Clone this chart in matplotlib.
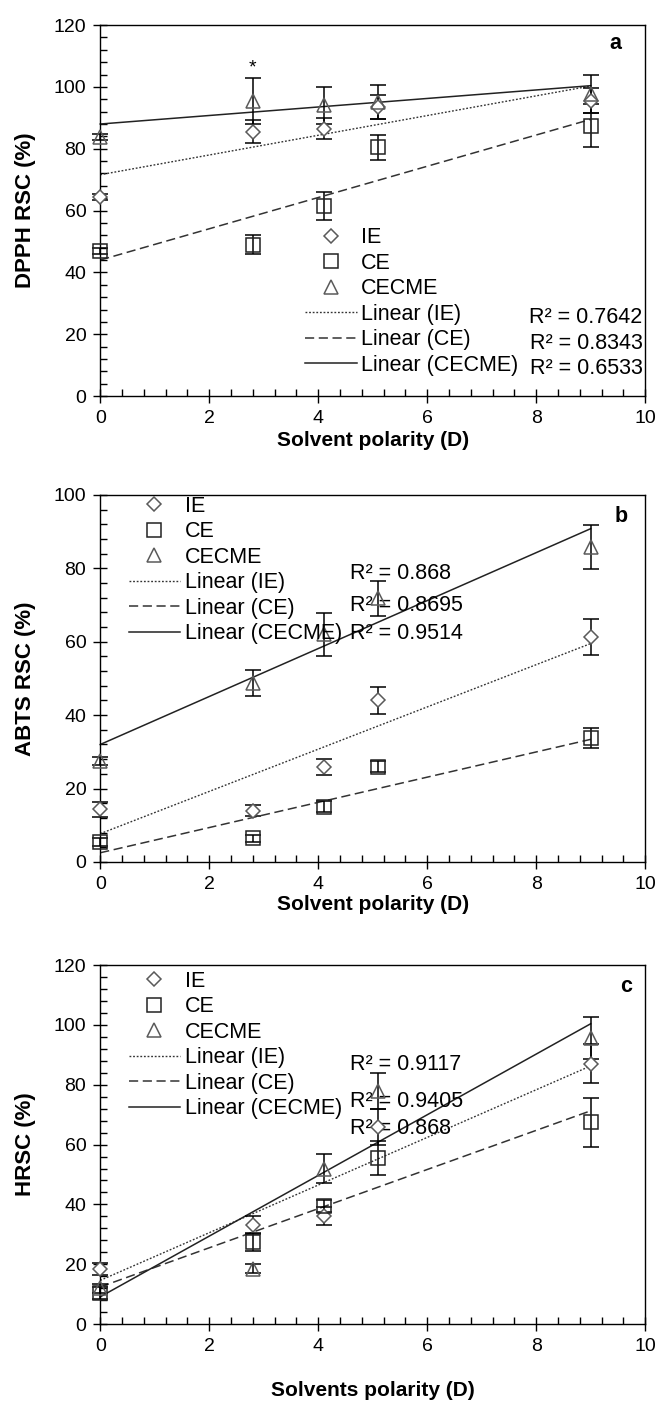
import numpy as np
import matplotlib
matplotlib.use('Agg')
import matplotlib.pyplot as plt
from matplotlib.lines import Line2D
from matplotlib.ticker import MultipleLocator

plt.rcParams['font.family'] = ['Liberation Sans', 'DejaVu Sans']

polarity = [0, 2.8, 4.1, 5.1, 9.0]
fit_x = [0, 9.0]

# a: DPPH
dpph_ie = [64.5, 85.5, 86.5, 93.5, 95.5]
dpph_ie_err = [1.0, 3.7, 3.5, 4.0, 4.0]
dpph_ce = [46.8, 49.0, 61.5, 80.5, 87.5]
dpph_ce_err = [1.0, 3.0, 4.5, 4.0, 7.0]
dpph_cecme = [83.7, 95.5, 94.0, 95.0, 97.8]
dpph_cecme_err = [1.0, 7.5, 6.0, 5.5, 6.2]
dpph_fit_ie = [71.6, 100.3]
dpph_fit_ce = [44.0, 89.5]
dpph_fit_cecme = [88.0, 100.4]
dpph_r2 = ['R² = 0.7642', 'R² = 0.8343', 'R² = 0.6533']

# b: ABTS
abts_ie = [14.3, 14.0, 25.8, 44.0, 61.2]
abts_ie_err = [2.0, 1.5, 2.2, 3.8, 4.9]
abts_ce = [5.4, 6.4, 15.0, 26.0, 33.7]
abts_ce_err = [1.0, 1.0, 1.5, 1.5, 2.7]
abts_cecme = [27.5, 48.8, 62.0, 71.8, 85.8]
abts_cecme_err = [1.0, 3.5, 5.8, 4.7, 6.0]
abts_fit_ie = [7.7, 59.5]
abts_fit_ce = [2.5, 33.4]
abts_fit_cecme = [32.0, 90.8]
abts_r2 = ['R² = 0.868', 'R² = 0.8695', 'R² = 0.9514']

# c: HRSC
hrsc_ie = [18.5, 33.0, 36.0, 66.0, 87.0]
hrsc_ie_err = [2.0, 3.0, 3.0, 6.0, 6.5]
hrsc_ce = [10.5, 27.5, 39.5, 55.5, 67.5]
hrsc_ce_err = [2.0, 3.0, 2.0, 5.7, 8.2]
hrsc_cecme = [12.0, 18.5, 52.0, 78.0, 95.5]
hrsc_cecme_err = [1.5, 1.5, 5.0, 6.0, 7.0]
hrsc_fit_ie = [14.6, 86.3]
hrsc_fit_ce = [12.4, 71.3]
hrsc_fit_cecme = [9.1, 100.4]
hrsc_r2 = ['R² = 0.9117', 'R² = 0.9405', 'R² = 0.868']

edge = '#5a5a5a'
tick_fs = 14
leg_fs = 15.5
lab_fs = 15
ylab_fs = 16


def panel(ax, ie, ie_e, ce, ce_e, cm, cm_e, f_ie, f_ce, f_cm, ymax):
    ax.errorbar(polarity, ie, yerr=ie_e, fmt='D', ms=7, mfc='white', mec=edge,
                mew=1.1, ecolor='black', elinewidth=1.1, capsize=5.5, capthick=1.1, zorder=3)
    ax.errorbar(polarity, ce, yerr=ce_e, fmt='s', ms=9.5, mfc='none', mec='#222222',
                mew=1.1, ecolor='black', elinewidth=1.1, capsize=5.5, capthick=1.1, zorder=3)
    ax.errorbar(polarity, cm, yerr=cm_e, fmt='^', ms=9.5, mfc='none', mec=edge,
                mew=1.1, ecolor='black', elinewidth=1.1, capsize=5.5, capthick=1.1, zorder=3)
    ax.plot(fit_x, f_ie, color='#333333', lw=1.0, linestyle=(0, (1.3, 1.3)), zorder=2)
    ax.plot(fit_x, f_ce, color='#333333', lw=1.1, linestyle=(0, (6, 3)), zorder=2)
    ax.plot(fit_x, f_cm, color='#222222', lw=1.1, linestyle='-', zorder=2)
    for art in ax.lines + list(ax.collections):
        art.set_clip_on(False)
    ax.set_xlim(0, 10)
    ax.set_ylim(0, ymax)
    ax.xaxis.set_major_locator(MultipleLocator(2))
    ax.xaxis.set_minor_locator(MultipleLocator(0.4))
    ax.yaxis.set_major_locator(MultipleLocator(20))
    ax.yaxis.set_minor_locator(MultipleLocator(4))
    ax.tick_params(which='major', direction='inout', length=10, width=1, labelsize=tick_fs,
                   pad=5, top=False, right=False)
    ax.tick_params(which='minor', direction='in', length=5, width=1, top=False, right=False)
    for s in ax.spines.values():
        s.set_linewidth(1.0)


def add_legend(ax, anchor):
    handles = [
        Line2D([], [], marker='D', ms=7, mfc='white', mec=edge, mew=1.1, ls='none'),
        Line2D([], [], marker='s', ms=9.5, mfc='none', mec='#222222', mew=1.1, ls='none'),
        Line2D([], [], marker='^', ms=9.5, mfc='none', mec=edge, mew=1.1, ls='none'),
        Line2D([], [], color='#333333', lw=1.0, linestyle=(0, (1.3, 1.3))),
        Line2D([], [], color='#333333', lw=1.1, linestyle=(0, (6, 3))),
        Line2D([], [], color='#222222', lw=1.1),
    ]
    labels = ['IE', 'CE', 'CECME', 'Linear (IE)', 'Linear (CE)', 'Linear (CECME)']
    ax.legend(handles, labels, loc='upper left', bbox_to_anchor=anchor, frameon=False,
              fontsize=leg_fs, handlelength=2.4, handletextpad=0.2, labelspacing=0.21,
              borderpad=0, borderaxespad=0)


def labels(ax, xl, yl, xl_y):
    ax.set_xlabel(xl, fontsize=lab_fs, fontweight='bold')
    ax.set_ylabel(yl, fontsize=ylab_fs, fontweight='bold')
    ax.xaxis.set_label_coords(0.5, xl_y)
    ax.yaxis.set_label_coords(-0.118, 0.5)


fig = plt.figure(figsize=(6.55, 14.02), dpi=100)
ax1 = fig.add_axes([0.153, 0.7175, 0.832, 0.2646])
ax2 = fig.add_axes([0.153, 0.3852, 0.832, 0.2618])
ax3 = fig.add_axes([0.153, 0.0556, 0.832, 0.2560])

panel(ax1, dpph_ie, dpph_ie_err, dpph_ce, dpph_ce_err, dpph_cecme, dpph_cecme_err,
      dpph_fit_ie, dpph_fit_ce, dpph_fit_cecme, 120)
add_legend(ax1, (0.376, 0.455))
for r, yy in zip(dpph_r2, [0.212, 0.143, 0.075]):
    ax1.text(0.995, yy, r, transform=ax1.transAxes, ha='right', va='center', fontsize=leg_fs)
ax1.text(2.8, 106, '*', ha='center', va='center', fontsize=tick_fs)
ax1.text(0.945, 0.95, 'a', transform=ax1.transAxes, ha='center', va='center',
         fontsize=leg_fs, fontweight='bold')
labels(ax1, 'Solvent polarity (D)', 'DPPH RSC (%)', -0.095)

panel(ax2, abts_ie, abts_ie_err, abts_ce, abts_ce_err, abts_cecme, abts_cecme_err,
      abts_fit_ie, abts_fit_ce, abts_fit_cecme, 100)
add_legend(ax2, (0.052, 0.998))
for r, yy in zip(abts_r2, [0.787, 0.698, 0.622]):
    ax2.text(0.459, yy, r, transform=ax2.transAxes, ha='left', va='center', fontsize=leg_fs)
ax2.text(0.956, 0.94, 'b', transform=ax2.transAxes, ha='center', va='center',
         fontsize=leg_fs, fontweight='bold')
labels(ax2, 'Solvent polarity (D)', 'ABTS RSC (%)', -0.09)

panel(ax3, hrsc_ie, hrsc_ie_err, hrsc_ce, hrsc_ce_err, hrsc_cecme, hrsc_cecme_err,
      hrsc_fit_ie, hrsc_fit_ce, hrsc_fit_cecme, 120)
add_legend(ax3, (0.052, 0.985))
for r, yy in zip(hrsc_r2, [0.724, 0.621, 0.546]):
    ax3.text(0.459, yy, r, transform=ax3.transAxes, ha='left', va='center', fontsize=leg_fs)
ax3.text(0.965, 0.94, 'c', transform=ax3.transAxes, ha='center', va='center',
         fontsize=leg_fs, fontweight='bold')
labels(ax3, 'Solvents polarity (D)', 'HRSC (%)', -0.16)

fig.savefig('out.png', dpi=100)
